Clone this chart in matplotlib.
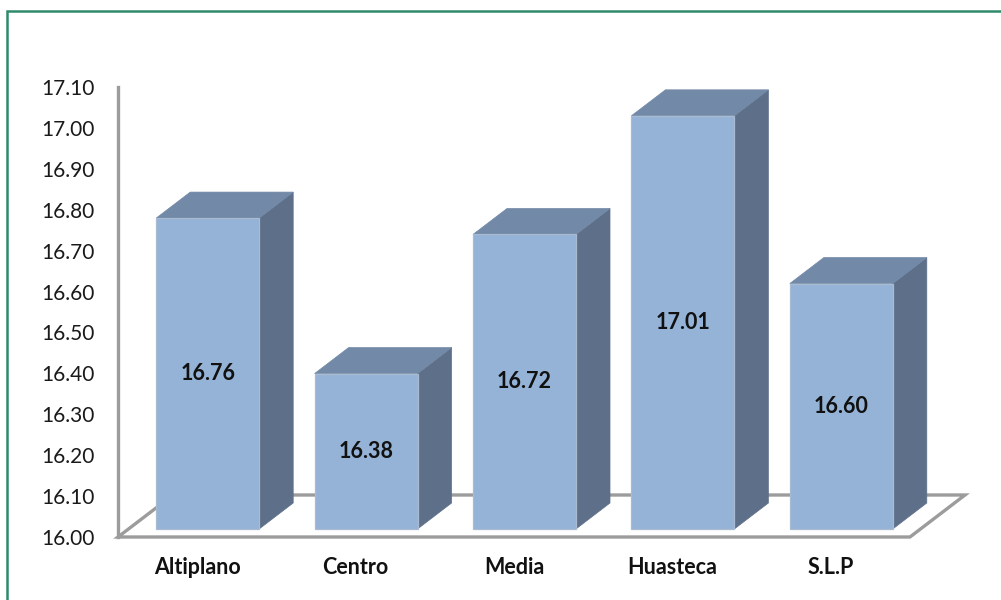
import matplotlib
matplotlib.use("Agg")
import matplotlib.pyplot as plt
from matplotlib.patches import Polygon, Rectangle
from matplotlib.transforms import IdentityTransform
import numpy as np

# Data
categories = ["Altiplano", "Centro", "Media", "Huasteca", "S.L.P"]
values = [16.76, 16.38, 16.72, 17.01, 16.60]
y_ticks = [16.00, 16.10, 16.20, 16.30, 16.40, 16.50, 16.60, 16.70, 16.80, 16.90, 17.00, 17.10]
y_min, y_max = 16.00, 17.10

FRONT = "#95b3d7"
TOP = "#7289a7"
SIDE = "#5e7089"
FLOOR_LINE = "#9c9c9c"
FONT = "Lato"

W, H = 1001, 600
fig = plt.figure(figsize=(W / 100, H / 100), dpi=100)
fig.patch.set_facecolor("white")

# Frame around the chart area
frame = Rectangle((7 / W, -0.2), 1.2, (H - 11) / H + 0.2, transform=fig.transFigure,
                  fill=False, edgecolor="#2f8a6c", linewidth=1.8, zorder=0)
fig.add_artist(frame)

# Axes: front-left edge of the plot floor
ax = fig.add_axes([118 / W, 63 / H, (910 - 118) / W, (537 - 87) / H])
ax.set_xlim(-0.5, len(categories) - 0.5)
ax.set_ylim(y_min, y_max)
ax.set_facecolor("none")
for s in ax.spines.values():
    s.set_visible(False)
ax.set_xticks([])
ax.set_yticks(y_ticks)
ax.set_yticklabels([f"{t:.2f}" for t in y_ticks], fontsize=15, family=FONT, color="#1a1a1a")
ax.tick_params(axis="y", length=0, pad=17)

fig.canvas.draw()

# depth offsets in pixels
floor_d = np.array([55.0, 42.0])
bar_start = floor_d * (8.0 / 42.0)
bar_d = floor_d * (26.0 / 42.0)


def pt(x, y, off=(0.0, 0.0)):
    p = ax.transData.transform((x, y))
    return (p[0] + off[0], p[1] + off[1])


def poly(verts, **kw):
    p = Polygon(verts, closed=True, transform=IdentityTransform(), **kw)
    fig.add_artist(p)
    return p


x_lo, x_hi = -0.5, len(categories) - 0.5
# floor outline
floor_pts = [pt(x_lo, y_min), pt(x_hi, y_min), pt(x_hi, y_min, floor_d), pt(x_lo, y_min, floor_d)]
poly(floor_pts, facecolor="white", edgecolor=FLOOR_LINE, linewidth=2.4, zorder=1, joinstyle="miter")
# vertical value axis
a0 = pt(x_lo, y_min)
a1 = pt(x_lo, y_max)
fig.add_artist(plt.Line2D([a0[0], a1[0]], [a0[1], a1[1]], transform=IdentityTransform(),
                          color=FLOOR_LINE, linewidth=2.4, zorder=1))

bw = 0.65
for i, (cat, v) in enumerate(zip(categories, values)):
    x0, x1 = i - bw / 2 + 0.0, i + bw / 2
    f = bar_start
    b = bar_start + bar_d
    # side face
    poly([pt(x1, y_min, f), pt(x1, y_min, b), pt(x1, v, b), pt(x1, v, f)],
         facecolor=SIDE, edgecolor=SIDE, linewidth=0.5, zorder=3)
    # top face
    poly([pt(x0, v, f), pt(x1, v, f), pt(x1, v, b), pt(x0, v, b)],
         facecolor=TOP, edgecolor=TOP, linewidth=0.5, zorder=3)
    # front face
    poly([pt(x0, y_min, f), pt(x1, y_min, f), pt(x1, v, f), pt(x0, v, f)],
         facecolor=FRONT, edgecolor="#a9bbd0", linewidth=0.9, zorder=4)
    # value label in the middle of the front face
    cx, cy = pt(i, (y_min + v) / 2, f)
    fig.text(cx / W, cy / H, f"{v:.2f}", ha="center", va="center", fontsize=15.5,
             fontweight="bold", family=FONT, color="#111111", zorder=5)
    # category label under the floor
    lx, ly = pt(i, y_min)
    fig.text(lx / W, (ly - 30) / H, cat, ha="center", va="center", fontsize=15.5,
             fontweight="bold", family=FONT, color="#111111", zorder=5)

fig.savefig("out.png", dpi=100)
